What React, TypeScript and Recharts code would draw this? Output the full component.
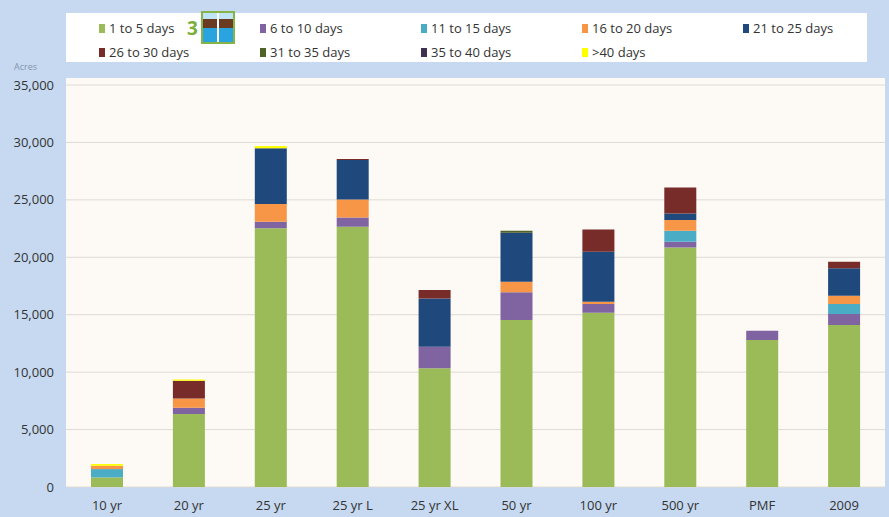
import { BarChart, Bar, XAxis, YAxis, CartesianGrid } from 'recharts'

const categories = ['10 yr', '20 yr', '25 yr', '25 yr L', '25 yr XL', '50 yr', '100 yr', '500 yr', 'PMF', '2009']

const days1to5 = [830, 6350, 22520, 22660, 10330, 14540, 15170, 20860, 12790, 14100]
const days6to10 = [0, 550, 580, 810, 1885, 2410, 755, 490, 810, 960]
const days11to15 = [730, 0, 0, 0, 0, 0, 0, 960, 0, 870]
const days16to20 = [290, 810, 1540, 1570, 0, 930, 200, 930, 0, 725]
const days21to25 = [0, 0, 4850, 3420, 4205, 4265, 4350, 580, 0, 2380]
const days26to30 = [0, 1540, 0, 90, 725, 0, 1945, 2260, 0, 580]
const days31to35 = [0, 0, 0, 0, 0, 175, 0, 0, 0, 0]
const days35to40 = [0, 0, 0, 0, 0, 0, 0, 0, 0, 0]
const daysOver40 = [150, 120, 200, 0, 0, 0, 0, 0, 0, 0]

const yTicks = [0, 5000, 10000, 15000, 20000, 25000, 30000, 35000]

const series = [
  { key: 'd1', name: '1 to 5 days', values: days1to5, color: '#9bbb59' },
  { key: 'd6', name: '6 to 10 days', values: days6to10, color: '#8064a2' },
  { key: 'd11', name: '11 to 15 days', values: days11to15, color: '#4bacc6' },
  { key: 'd16', name: '16 to 20 days', values: days16to20, color: '#f79646' },
  { key: 'd21', name: '21 to 25 days', values: days21to25, color: '#1f497d' },
  { key: 'd26', name: '26 to 30 days', values: days26to30, color: '#772c2a' },
  { key: 'd31', name: '31 to 35 days', values: days31to35, color: '#4f6228' },
  { key: 'd35', name: '35 to 40 days', values: days35to40, color: '#3f3151' },
  { key: 'd40', name: '>40 days', values: daysOver40, color: '#ffff00' },
]

const data = categories.map((name, i) => {
  const row: Record<string, string | number> = { name }
  series.forEach((s) => (row[s.key] = s.values[i]))
  return row
})

const font = "'Open Sans', 'Noto Sans', sans-serif"

function Legend() {
  return (
    <div
      style={{
        position: 'absolute',
        left: 66,
        top: 13,
        width: 801,
        height: 49,
        background: '#ffffff',
        fontFamily: font,
        fontSize: 13,
        color: '#333',
      }}
    >
      {series.map((s, i) => (
        <div
          key={s.key}
          style={{
            position: 'absolute',
            left: 33 + (i % 5) * 161,
            top: i < 5 ? 6 : 30,
            display: 'flex',
            alignItems: 'center',
            whiteSpace: 'nowrap',
          }}
        >
          <span style={{ width: 6, height: 9, background: s.color, marginRight: 4 }} />
          {s.name}
        </div>
      ))}
      <span
        style={{
          position: 'absolute',
          left: 121,
          top: 2,
          color: '#7cae3c',
          fontWeight: 'bold',
          fontSize: 19,
        }}
      >
        3
      </span>
      <span
        style={{
          position: 'absolute',
          left: 135,
          top: -2,
          width: 34,
          height: 33,
          boxSizing: 'border-box',
          border: '2px solid #86b446',
          background:
            'linear-gradient(90deg, transparent 48%, #ffffff 48% 54%, transparent 54%), linear-gradient(#bfe4f6 0 20%, #6b3a22 20% 52%, #2aa4df 52%)',
        }}
      />
    </div>
  )
}

export default function App() {
  return (
    <div style={{ position: 'absolute', left: 0, top: 0, width: 889, height: 517, background: '#c6d9f1' }}>
      <div style={{ position: 'absolute', left: 66, top: 78, width: 819, height: 409, background: '#fdf9f4' }} />
      <div style={{ position: 'absolute', left: 14, top: 60, fontSize: 9, color: '#8496ad', fontFamily: font }}>Acres</div>
      <div style={{ position: 'absolute', left: 0, top: 0 }}>
        <BarChart width={889} height={517} data={data} margin={{ top: 85, right: 4, bottom: 0, left: 0 }} barSize={32}>
          <CartesianGrid vertical={false} stroke="#dedad5" fill="#fdf9f4" />
          <XAxis
            dataKey="name"
            height={30}
            axisLine={false}
            tickLine={false}
            tick={{ fill: '#333', fontSize: 13, fontFamily: font }}
            tickMargin={8}
          />
          <YAxis
            width={66}
            domain={[0, 35000]}
            ticks={yTicks}
            axisLine={false}
            tickLine={false}
            tickFormatter={(v: number) => v.toLocaleString('en-US')}
            tick={{ fill: '#333', fontSize: 13, fontFamily: font }}
            tickMargin={6}
          />
          {series.map((s) => (
            <Bar key={s.key} dataKey={s.key} name={s.name} stackId="a" fill={s.color} isAnimationActive={false} />
          ))}
        </BarChart>
      </div>
      <Legend />
    </div>
  )
}
